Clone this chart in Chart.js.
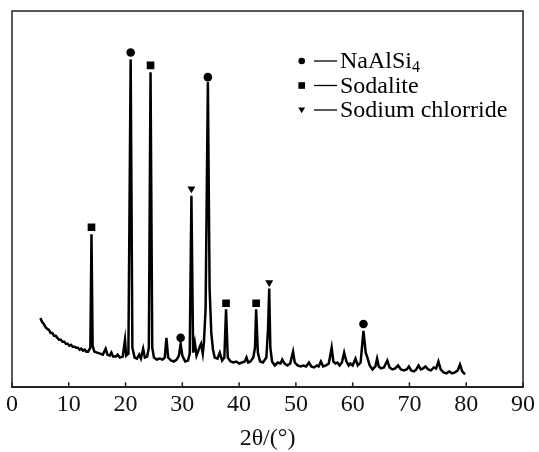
<!DOCTYPE html>
<html>
<head>
<meta charset="utf-8">
<script src="https://cdn.jsdelivr.net/npm/chart.js@4.4.1/dist/chart.umd.min.js"></script>
<style>
  html, body { margin: 0; padding: 0; background: #fff; }
  #wrap { width: 539px; height: 452px; position: relative; }
</style>
</head>
<body>
<div id="wrap"><canvas id="xrdChart"></canvas></div>
<script>
// XRD pattern, 2theta (deg) vs relative intensity (arbitrary units)
const twoTheta = [
  5.0, 5.3, 5.6, 5.9, 6.2, 6.5, 6.8, 7.1, 7.4, 7.7, 8.0, 8.3, 8.6, 8.9, 9.2, 9.5, 9.8, 10.1,
  10.4, 10.7, 11.0, 11.3, 11.6, 11.9, 12.2, 12.5, 12.8, 13.1, 13.4,
  13.8, 14.0, 14.2, 14.5, 15.0, 15.5, 16.0, 16.5, 16.8, 17.2, 17.5, 17.8, 18.3, 18.6, 19.0, 19.5,
  19.9, 20.1, 20.5, 20.9, 21.2, 21.6, 22.0, 22.4, 22.7, 23.1, 23.4, 23.8, 24.1, 24.4, 24.7, 25.0,
  25.5, 26.0, 26.5, 26.9, 27.2, 27.5, 28.0, 28.5, 29.0, 29.4, 29.7, 30.0, 30.5, 31.0, 31.3, 31.6,
  31.9, 32.2, 32.5, 33.0, 33.3, 33.6, 33.8, 34.1, 34.5, 34.8, 35.1, 35.4, 35.7, 36.2, 36.6, 37.0,
  37.4, 37.7, 38.0, 38.5, 39.0, 39.5, 40.0, 40.5, 41.0, 41.3, 41.6, 42.0, 42.5, 42.8, 43.0, 43.3,
  43.7, 44.2, 44.8, 45.1, 45.3, 45.5, 45.8, 46.3, 46.8, 47.3, 47.6, 48.0, 48.5, 49.0, 49.5, 49.8,
  50.3, 50.8, 51.3, 51.8, 52.3, 52.7, 53.2, 53.7, 54.0, 54.4, 54.8, 55.3, 55.8, 56.3, 56.6, 57.0,
  57.3, 57.7, 58.1, 58.5, 58.9, 59.3, 59.6, 60.0, 60.5, 60.9, 61.4, 61.9, 62.3, 62.6, 63.0, 63.5,
  64.0, 64.3, 64.6, 65.0, 65.5, 66.1, 66.5, 67.0, 67.5, 68.0, 68.5, 69.0, 69.5, 69.9, 70.3, 70.8,
  71.2, 71.6, 72.0, 72.4, 72.8, 73.3, 73.8, 74.3, 74.7, 75.1, 75.5, 76.0, 76.5, 77.0, 77.5, 78.0,
  78.5, 78.9, 79.3, 79.8
];
const intensity = [
  70, 66, 64, 61, 59, 58, 55, 55, 52, 52, 50, 48, 48, 46, 46, 44, 44, 42,
  43, 41, 41, 40, 40, 38, 39, 37, 38, 36, 36,
  40, 155, 42, 36, 35, 34, 33, 39, 33, 32, 35, 31, 31, 33, 30, 31,
  48, 32, 34, 332, 40, 30, 29, 33, 29, 39, 30, 31, 40, 319, 40, 30,
  28, 29, 28, 30, 50, 30, 27, 26, 28, 32, 44, 32, 26, 27, 34, 194,
  35, 45, 32, 40, 44, 34, 45, 80, 309, 100, 55, 38, 30, 29, 35, 27,
  30, 79, 30, 26, 25, 26, 24, 25, 26, 30, 25, 26, 30, 40, 79, 35,
  26, 25, 30, 60, 100, 40, 26, 22, 25, 24, 28, 24, 22, 24, 36, 25,
  22, 21, 22, 21, 25, 21, 20, 22, 21, 26, 21, 22, 24, 40, 26, 24,
  25, 22, 25, 35, 26, 22, 24, 22, 29, 22, 25, 57, 35, 30, 22, 18,
  21, 29, 21, 19, 20, 27, 20, 18, 19, 22, 18, 17, 18, 21, 17, 16,
  18, 22, 18, 19, 21, 18, 17, 20, 19, 26, 18, 15, 14, 16, 14, 15,
  17, 23, 16, 13
];

// phase markers above peaks
const naalsi4X = [20.9, 29.7, 34.5, 61.9];
const naalsi4Y = [339, 50, 314, 64];
const sodaliteX = [14.0, 24.4, 37.7, 43.0];
const sodaliteY = [162, 326, 85, 85];
const naclX = [31.6, 45.3];
const naclY = [201, 106];

const xTicks = [0, 10, 20, 30, 40, 50, 60, 70, 80, 90];
const legendLabels = ['NaAlSi', 'Sodalite', 'Sodium chlorride'];

const serif = "'Liberation Serif', 'Times New Roman', serif";

function toPoints(xs, ys) {
  return xs.map((x, i) => ({ x: x, y: ys[i] }));
}

// frame + inward ticks + legend
const framePlugin = {
  id: 'frame',
  afterDraw(chart) {
    const ctx = chart.ctx;
    const a = chart.chartArea;
    const xs = chart.scales.x;
    ctx.save();
    ctx.strokeStyle = '#222';
    ctx.lineWidth = 1.5;
    ctx.strokeRect(a.left, a.top, a.right - a.left, a.bottom - a.top);
    ctx.beginPath();
    xTicks.forEach(v => {
      const px = xs.getPixelForValue(v);
      ctx.moveTo(px, a.bottom);
      ctx.lineTo(px, a.bottom - 5);
    });
    ctx.stroke();

    // legend
    const lx = 301.7;
    const rows = [68, 92.5, 117];
    ctx.fillStyle = '#000';
    ctx.strokeStyle = '#000';
    ctx.lineWidth = 1.3;
    rows.forEach((by, i) => {
      const my = by - 7;
      ctx.beginPath();
      if (i === 0) {
        ctx.arc(lx, my, 3.3, 0, Math.PI * 2);
        ctx.fill();
      } else if (i === 1) {
        ctx.fillRect(lx - 3.3, my - 3.3, 6.6, 6.6);
      } else {
        ctx.moveTo(lx - 3.4, my - 2.5);
        ctx.lineTo(lx + 3.4, my - 2.5);
        ctx.lineTo(lx, my + 3.3);
        ctx.closePath();
        ctx.fill();
      }
      ctx.beginPath();
      ctx.moveTo(314, my);
      ctx.lineTo(337, my);
      ctx.stroke();
      ctx.font = '24px ' + serif;
      ctx.textBaseline = 'alphabetic';
      ctx.textAlign = 'left';
      ctx.fillText(legendLabels[i], 340, by);
      if (i === 0) {
        const w = ctx.measureText(legendLabels[i]).width;
        ctx.font = '16px ' + serif;
        ctx.fillText('4', 340 + w, by + 4);
      }
    });
    ctx.restore();
  }
};

const ctx = document.getElementById('xrdChart').getContext('2d');
new Chart(ctx, {
  type: 'scatter',
  data: {
    datasets: [
      {
        label: 'XRD',
        data: toPoints(twoTheta, intensity),
        showLine: true,
        borderColor: '#000',
        borderWidth: 2.5,
        pointRadius: 0,
        tension: 0,
        order: 2
      },
      {
        label: 'NaAlSi4',
        data: toPoints(naalsi4X, naalsi4Y),
        pointStyle: 'circle',
        pointRadius: 4.3,
        backgroundColor: '#000',
        borderColor: '#000',
        borderWidth: 0,
        order: 1
      },
      {
        label: 'Sodalite',
        data: toPoints(sodaliteX, sodaliteY),
        pointStyle: 'rect',
        pointRadius: 5.4,
        backgroundColor: '#000',
        borderColor: '#000',
        borderWidth: 0,
        order: 1
      },
      {
        label: 'Sodium chlorride',
        data: toPoints(naclX, naclY),
        pointStyle: 'triangle',
        rotation: 180,
        pointRadius: 4.6,
        backgroundColor: '#000',
        borderColor: '#000',
        borderWidth: 0,
        order: 1
      }
    ]
  },
  options: {
    responsive: true,
    maintainAspectRatio: false,
    animation: false,
    layout: { padding: { left: 12, right: 15, top: 11, bottom: 0 } },
    plugins: {
      legend: { display: false },
      tooltip: { enabled: false }
    },
    scales: {
      x: {
        type: 'linear',
        min: 0,
        max: 90,
        afterBuildTicks: axis => { axis.ticks = xTicks.map(v => ({ value: v })); },
        grid: { drawOnChartArea: false, drawTicks: false },
        border: { color: '#222', width: 1.5 },
        ticks: {
          padding: 4,
          color: '#111',
          font: { family: serif, size: 24, lineHeight: 1.1 }
        },
        title: {
          display: true,
          text: '2θ/(°)',
          color: '#111',
          padding: { top: 4, bottom: 0 },
          font: { family: serif, size: 24, lineHeight: 1.1 }
        }
      },
      y: {
        display: false,
        min: 0,
        max: 381
      }
    }
  },
  plugins: [framePlugin]
});
</script>
</body>
</html>
